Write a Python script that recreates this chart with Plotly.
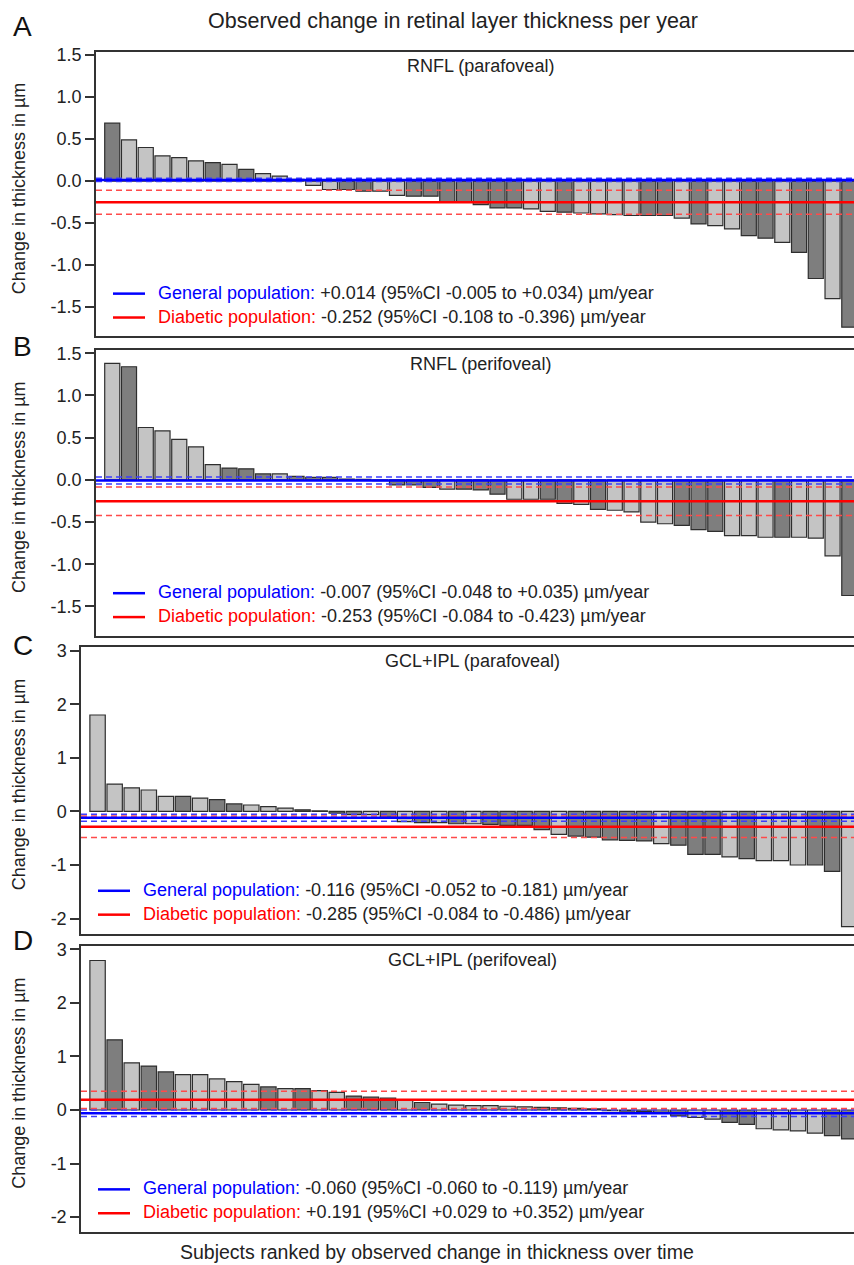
import plotly.graph_objects as go

W, H = 854, 1265

# ranked observed change per subject (um/year), one list per panel
rnfl_para = [0.69, 0.49, 0.40, 0.30, 0.28, 0.24, 0.22, 0.20, 0.14, 0.09,
             0.06, 0.02, -0.05, -0.10, -0.10, -0.12, -0.12, -0.17, -0.18, -0.18,
             -0.25, -0.25, -0.28, -0.32, -0.32, -0.33, -0.36, -0.37, -0.38, -0.39,
             -0.40, -0.41, -0.41, -0.41, -0.44, -0.51, -0.53, -0.57, -0.65, -0.68,
             -0.73, -0.85, -1.16, -1.40, -1.74]
rnfl_peri = [1.38, 1.34, 0.62, 0.58, 0.48, 0.39, 0.18, 0.14, 0.13, 0.07,
             0.07, 0.04, 0.03, 0.03, 0.01, 0.005, -0.01, -0.06, -0.06, -0.09,
             -0.11, -0.11, -0.12, -0.17, -0.23, -0.23, -0.23, -0.28, -0.29, -0.35,
             -0.36, -0.38, -0.50, -0.52, -0.54, -0.59, -0.61, -0.66, -0.66, -0.68,
             -0.68, -0.68, -0.69, -0.90, -1.37]
gcl_para = [1.80, 0.51, 0.44, 0.40, 0.28, 0.28, 0.25, 0.22, 0.14, 0.12,
            0.09, 0.06, 0.03, 0.01, -0.03, -0.06, -0.06, -0.11, -0.19, -0.21,
            -0.21, -0.23, -0.23, -0.24, -0.26, -0.26, -0.34, -0.43, -0.46, -0.48,
            -0.53, -0.54, -0.55, -0.60, -0.63, -0.80, -0.80, -0.85, -0.88, -0.92,
            -0.92, -1.00, -1.00, -1.12, -2.15]
gcl_peri = [2.79, 1.31, 0.88, 0.82, 0.71, 0.66, 0.66, 0.58, 0.53, 0.48,
            0.43, 0.40, 0.40, 0.36, 0.33, 0.26, 0.24, 0.22, 0.19, 0.14,
            0.11, 0.09, 0.08, 0.08, 0.07, 0.06, 0.05, 0.04, 0.03, 0.02,
            -0.01, -0.02, -0.03, -0.04, -0.11, -0.14, -0.17, -0.23, -0.27, -0.35,
            -0.37, -0.39, -0.43, -0.48, -0.54]

# subject group of each bar (D = dark bar, L = light bar)
grp_a = "DLLLL" "LDLDL" "LLLLD" "DLLDD" "DDDDD" "LLDLL" "LLDDL" "DLLDD" "LDDLD"
grp_b = "LDLLL" "LLDDD" "LDDDD" "LLDDD" "LDDDL" "LDDLD" "LLLLD" "DDLLL" "DLLLD"
grp_c = "LLLLL" "DLDDL" "LLDDD" "DLDLD" "LDLDD" "DDLDD" "DDDLD" "DDLDL" "LLDDL"
grp_d = "LDLDD" "LLLLL" "DLDLL" "DDDLD" "LLLLL" "LDDDL" "DDDLD" "LLDDL" "LLLDD"

panels = ["A", "B", "C", "D"]
subtitles = ["RNFL (parafoveal)", "RNFL (perifoveal)",
             "GCL+IPL (parafoveal)", "GCL+IPL (perifoveal)"]

# population estimates: estimate, CI bound 1, CI bound 2
gen_est = [0.014, -0.007, -0.116, -0.060]
gen_ci1 = [-0.005, -0.048, -0.052, -0.060]
gen_ci2 = [0.034, 0.035, -0.181, -0.119]
gen_ci_line1 = [-0.005, -0.048, -0.052, -0.001]
dia_est = [-0.252, -0.253, -0.285, 0.191]
dia_ci1 = [-0.108, -0.084, -0.084, 0.029]
dia_ci2 = [-0.396, -0.423, -0.486, 0.352]

ticks_ab = [-1.5, -1.0, -0.5, 0.0, 0.5, 1.0, 1.5]
ticks_cd = [-2, -1, 0, 1, 2, 3]

series = [rnfl_para, rnfl_peri, gcl_para, gcl_peri]
groups = [grp_a, grp_b, grp_c, grp_d]

LIGHT, DARK = "#c4c4c4", "#7e7e7e"
FONT = "Liberation Sans, Arial, sans-serif"


def px_x(v):
    return v / W


def px_y(v):
    return 1 - v / H


# pixel frames of the four panels (left, top, bottom)
frames = [(96, 46, 332), (96, 345.5, 633), (81, 644, 932), (81, 944, 1232)]
yranges = [[-1.85, 1.54], [-1.85, 1.54], [-2.28, 3.07], [-2.28, 3.07]]
letter_y = [21, 342, 643, 939]

fig = go.Figure()
layout = dict(width=W, height=H, autosize=False,
              margin=dict(l=0, r=0, t=0, b=0),
              paper_bgcolor="white", plot_bgcolor="white",
              showlegend=False, font=dict(family=FONT, color="#222", size=16))

annotations = []
shapes = []

for i, vals in enumerate(series):
    n = i + 1
    xa = "x" if n == 1 else f"x{n}"
    ya = "y" if n == 1 else f"y{n}"
    colors = [DARK if g == "D" else LIGHT for g in groups[i]]
    fig.add_trace(go.Bar(x=list(range(len(vals))), y=vals, width=0.9,
                         marker=dict(color=colors, line=dict(color="#2e2e2e", width=1.2)),
                         xaxis=xa, yaxis=ya, hoverinfo="skip"))

    left, top, bottom = frames[i]
    tv = ticks_ab if i < 2 else ticks_cd
    tt = [f"{t:.1f}" for t in tv] if i < 2 else [str(t) for t in tv]
    layout["xaxis" if n == 1 else f"xaxis{n}"] = dict(
        domain=[px_x(left), 1], range=[-0.97, 44.28], anchor=ya,
        showline=True, mirror=True, linecolor="#333", linewidth=1.5,
        showticklabels=False, ticks="", showgrid=False, zeroline=False)
    layout["yaxis" if n == 1 else f"yaxis{n}"] = dict(
        domain=[px_y(bottom), px_y(top)], range=yranges[i], anchor=xa,
        showline=True, linecolor="#333", linewidth=1.5,
        tickvals=tv, ticktext=tt, ticks="outside", ticklen=9, tickwidth=1.5,
        tickcolor="#333", tickfont=dict(size=18, color="#222"),
        showgrid=False, zeroline=False)

    xd = f"{xa} domain"
    for y, col, w, d in [(gen_ci_line1[i], "#3c3cff", 1.5, "6px,4px"),
                         (gen_ci2[i], "#3c3cff", 1.5, "6px,4px"),
                         (dia_ci1[i], "#ff4a4a", 1.5, "6px,4px"),
                         (dia_ci2[i], "#ff4a4a", 1.5, "6px,4px"),
                         (gen_est[i], "#0000ff", 2.5, "solid"),
                         (dia_est[i], "#ff0000", 2.5, "solid")]:
        shapes.append(dict(type="line", xref=xd, yref=ya, x0=0, x1=1, y0=y, y1=y,
                           line=dict(color=col, width=w, dash=d)))

    # panel letter, subtitle, y-axis title
    annotations.append(dict(text=panels[i], x=px_x(11), y=px_y(letter_y[i]),
                            xref="paper", yref="paper", xanchor="left", yanchor="middle",
                            showarrow=False, font=dict(size=28, color="#111")))
    annotations.append(dict(text=subtitles[i], x=px_x(481 if i < 2 else 473),
                            y=px_y(top + 14.5),
                            xref="paper", yref="paper", xanchor="center", yanchor="middle",
                            showarrow=False, font=dict(size=18, color="#222")))
    annotations.append(dict(text="Change in thickness in µm", textangle=-90,
                            x=px_x(19), y=px_y((top + bottom) / 2 - 5),
                            xref="paper", yref="paper", xanchor="center", yanchor="middle",
                            showarrow=False, font=dict(size=18, color="#222")))

    # legend rows
    seg0, seg1, tx = (113, 145, 156) if i < 2 else (98, 130, 141)
    rows = [("#0000ff", "General population:", gen_est[i], gen_ci1[i], gen_ci2[i], bottom - 43),
            ("#ff0000", "Diabetic population:", dia_est[i], dia_ci1[i], dia_ci2[i], bottom - 19)]
    for col, lab, est, c1, c2, yy in rows:
        shapes.append(dict(type="line", xref="paper", yref="paper",
                           x0=px_x(seg0), x1=px_x(seg1), y0=px_y(yy), y1=px_y(yy),
                           line=dict(color=col, width=2.5)))
        txt = (f'<span style="color:{col}">{lab}</span> '
               f"{est:+.3f} (95%CI {c1:+.3f} to {c2:+.3f}) µm/year")
        annotations.append(dict(text=txt, x=px_x(tx), y=px_y(yy - 1),
                                xref="paper", yref="paper", xanchor="left", yanchor="middle",
                                showarrow=False, font=dict(size=18, color="#222")))

annotations.append(dict(text="Observed change in retinal layer thickness per year",
                        x=px_x(453), y=px_y(15), xref="paper", yref="paper",
                        xanchor="center", yanchor="middle", showarrow=False,
                        font=dict(size=21.5, color="#222")))
annotations.append(dict(text="Subjects ranked by observed change in thickness over time",
                        x=px_x(437), y=px_y(1252), xref="paper", yref="paper",
                        xanchor="center", yanchor="middle", showarrow=False,
                        font=dict(size=19.5, color="#222")))

layout["annotations"] = annotations
layout["shapes"] = shapes
fig.update_layout(**layout)

# drop the default page margin so the figure sits flush in the window
fig.write_html("out.html", config={"displayModeBar": False},
               post_script="document.body.style.margin='0';")
